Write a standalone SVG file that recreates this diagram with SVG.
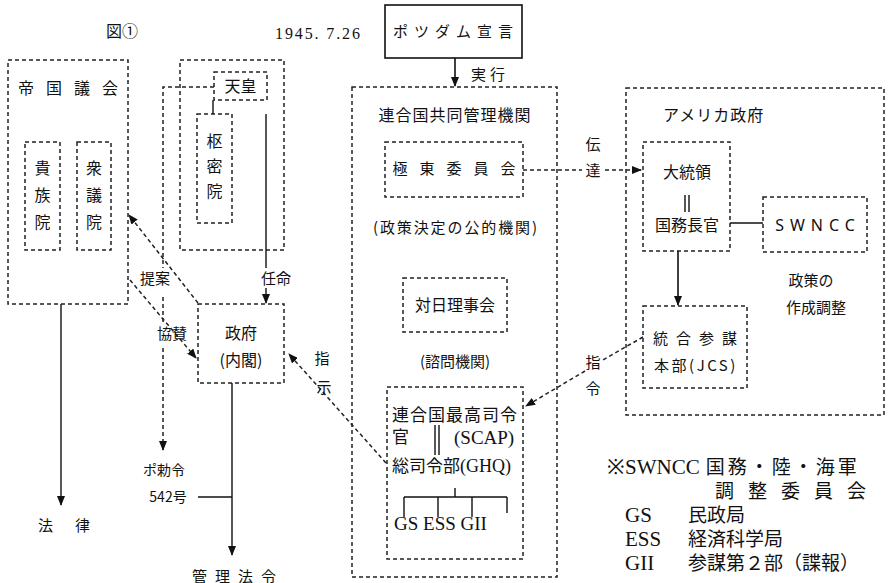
<svg xmlns="http://www.w3.org/2000/svg" width="890" height="583" viewBox="0 0 890 583">
<defs>
<marker id="ah" markerWidth="10" markerHeight="8" refX="9" refY="4" orient="auto" markerUnits="userSpaceOnUse">
<path d="M0,0 L10,4 L0,8 Z" fill="#111"/>
</marker>
<style>
.bg{fill:#fff}
.d{fill:none;stroke:#222;stroke-width:1.5;stroke-dasharray:4 3}
.s{fill:none;stroke:#111;stroke-width:1.4}
.sb{fill:none;stroke:#111;stroke-width:1.6}
.dl{fill:none;stroke:#222;stroke-width:1.5;stroke-dasharray:4 3}
text{font-family:"Noto Sans CJK JP","Noto Sans CJK SC",sans-serif;fill:#111;font-size:15px}
.sf{font-family:"Liberation Serif","Noto Sans CJK JP",serif}
.m{text-anchor:middle}
.f16{font-size:16px}
.f17{font-size:17px}
.lg{font-size:19px}
.ls{font-family:"Liberation Serif",serif;font-size:21px}
</style>
</defs>
<rect class="bg" x="0" y="0" width="890" height="583"/>

<text x="106" y="37" class="f16">図①</text>
<text x="275" y="39" class="sf f16" textLength="85">1945. 7.26</text>

<g id="potsdam">
<rect class="sb" x="385" y="5" width="137" height="53"/>
<text x="456" y="37" class="m" style="letter-spacing:6px">ポツダム宣言</text>
</g>

<g id="teikoku-gikai">
<rect class="d" x="8" y="60" width="120" height="244"/>
<text x="18" y="94" class="f16" style="letter-spacing:12px">帝国議会</text>
</g>
<g id="kizokuin">
<rect class="d" x="25" y="142" width="35" height="108"/>
<text x="42.5" y="174" class="m f16">貴</text>
<text x="42.5" y="201" class="m f16">族</text>
<text x="42.5" y="228" class="m f16">院</text>
</g>
<g id="shugiin">
<rect class="d" x="77" y="142" width="34" height="108"/>
<text x="94" y="174" class="m f16">衆</text>
<text x="94" y="201" class="m f16">議</text>
<text x="94" y="228" class="m f16">院</text>
</g>

<g id="tenno-group">
<rect class="d" x="180" y="60" width="104" height="190"/>
</g>
<g id="tenno">
<rect class="d" x="214" y="72" width="53" height="28"/>
<text x="240.5" y="92" class="m f16">天皇</text>
</g>
<g id="sumitsuin">
<rect class="d" x="197" y="114" width="35" height="109"/>
<text x="214.5" y="147" class="m f16">枢</text>
<text x="214.5" y="172" class="m f16">密</text>
<text x="214.5" y="197" class="m f16">院</text>
</g>

<g id="seifu">
<rect class="d" x="198" y="304" width="86" height="79"/>
<text x="241" y="339" class="m f16">政府</text>
<text x="241" y="366" class="m f16">(内閣)</text>
</g>

<g id="rengokoku">
<rect class="d" x="352" y="87" width="205" height="490"/>
<text x="455" y="121" class="m f16" style="letter-spacing:1px">連合国共同管理機関</text>
<text x="455" y="233" class="m" textLength="164">(政策決定の公的機関)</text>
<text x="455" y="367" class="m">(諮問機関)</text>
</g>
<g id="kyokuto">
<rect class="d" x="385" y="142" width="138" height="55"/>
<text x="460" y="174" class="m" style="letter-spacing:12px">極東委員会</text>
</g>
<g id="tainichi">
<rect class="d" x="403" y="278" width="104" height="54"/>
<text x="455" y="311" class="m f16">対日理事会</text>
</g>
<g id="scap">
<rect class="d" x="387" y="387" width="136" height="172"/>
<text x="392" y="421" class="f17" style="letter-spacing:1px">連合国最高司令</text>
<text x="392" y="443" class="f17">官</text>
<text x="454" y="444" class="sf" style="font-size:19px">(SCAP)</text>
<text x="392" y="472" class="f17">総司令部<tspan class="sf" style="font-size:18px">(GHQ)</tspan></text>
<text x="394" y="530" class="sf" style="font-size:19px">GS ESS GII</text>
<path class="s" d="M435,425 V455 M439,425 V455"/>
<path class="s" d="M455,488 V497 M404,497 H507 M404,497 V517 M438,497 V517 M472,497 V517 M507,497 V513"/>
</g>

<g id="america">
<rect class="d" x="626" y="88" width="258" height="327"/>
<text x="663" y="121" class="f16" style="letter-spacing:1px">アメリカ政府</text>
<text x="811" y="286" class="m">政策の</text>
<text x="816" y="313" class="m">作成調整</text>
</g>
<g id="president">
<rect class="d" x="643" y="142" width="87" height="109"/>
<text x="687" y="178" class="m f16">大統領</text>
<path class="s" d="M685,195 V212 M689,195 V212"/>
<text x="687" y="231" class="m f16">国務長官</text>
</g>
<g id="swncc">
<rect class="d" x="763" y="197" width="104" height="55"/>
<text x="818" y="231" class="m" style="font-family:'Noto Sans',sans-serif;font-size:16px;letter-spacing:6px">SWNCC</text>
</g>
<g id="jcs">
<rect class="d" x="643" y="306" width="104" height="82"/>
<text x="699" y="344" class="m" style="letter-spacing:8px">統合参謀</text>
<text x="696" y="371" class="m" style="letter-spacing:2.5px">本部(JCS)</text>
</g>

<g id="connectors">
<path class="sb" d="M455,58 V86" marker-end="url(#ah)"/>
<text x="490" y="80" class="m" style="letter-spacing:4px">実行</text>
<path class="dl" d="M523,170 H582"/>
<path class="dl" d="M605,170 H641" marker-end="url(#ah)"/>
<text x="593" y="150" class="m">伝</text>
<text x="593" y="176" class="m">達</text>
<path class="sb" d="M678,251 V305" marker-end="url(#ah)"/>
<path class="s" d="M730,223 H763"/>
<path class="dl" d="M643,337 L603,360"/>
<path class="dl" d="M585,371 L526,406" marker-end="url(#ah)"/>
<text x="593" y="368" class="m">指</text>
<text x="593" y="394" class="m">令</text>
<path class="dl" d="M386,463 L289,354" marker-end="url(#ah)"/>
<text x="322" y="364" class="m">指</text>
<text x="324" y="393" class="m">示</text>
<path class="s" d="M213,100 V114"/>
<path class="s" d="M266,114 V268"/>
<path class="s" d="M266,288 V303" marker-end="url(#ah)"/>
<text x="276" y="284" class="m">任命</text>
<path class="dl" d="M214,87 H163 V268 M163,297 V323"/>
<path class="dl" d="M163,348 V450" marker-end="url(#ah)"/>
<path class="dl" d="M198,303 L129,215" marker-end="url(#ah)"/>
<text x="155" y="284" class="m">提案</text>
<path class="dl" d="M130,280 L196,358" marker-end="url(#ah)"/>
<text x="172" y="339" class="m">協賛</text>
<path class="s" d="M61,304 V505" marker-end="url(#ah)"/>
<text x="38" y="531" style="letter-spacing:22px">法律</text>
<path class="s" d="M232,383 V555" marker-end="url(#ah)"/>
<path class="s" d="M198,497 H232"/>
<text x="164" y="475" class="m" style="font-size:14px">ポ勅令</text>
<text x="168" y="502" class="m" style="font-size:14px">542号</text>
<text x="238" y="582" class="m" style="letter-spacing:8px">管理法令</text>
</g>

<g id="legend">
<text x="607" y="474"><tspan class="ls">※SWNCC</tspan><tspan class="lg" dx="6" style="letter-spacing:3px">国務・陸・海軍</tspan></text>
<text x="715" y="498" class="lg" style="letter-spacing:14px">調整委員会</text>
<text x="625" y="522" class="ls">GS</text>
<text x="688" y="522" class="lg">民政局</text>
<text x="625" y="546" class="ls">ESS</text>
<text x="688" y="546" class="lg">経済科学局</text>
<text x="625" y="570" class="ls">GII</text>
<text x="688" y="570" class="lg">参謀第２部（諜報）</text>
</g>
</svg>
